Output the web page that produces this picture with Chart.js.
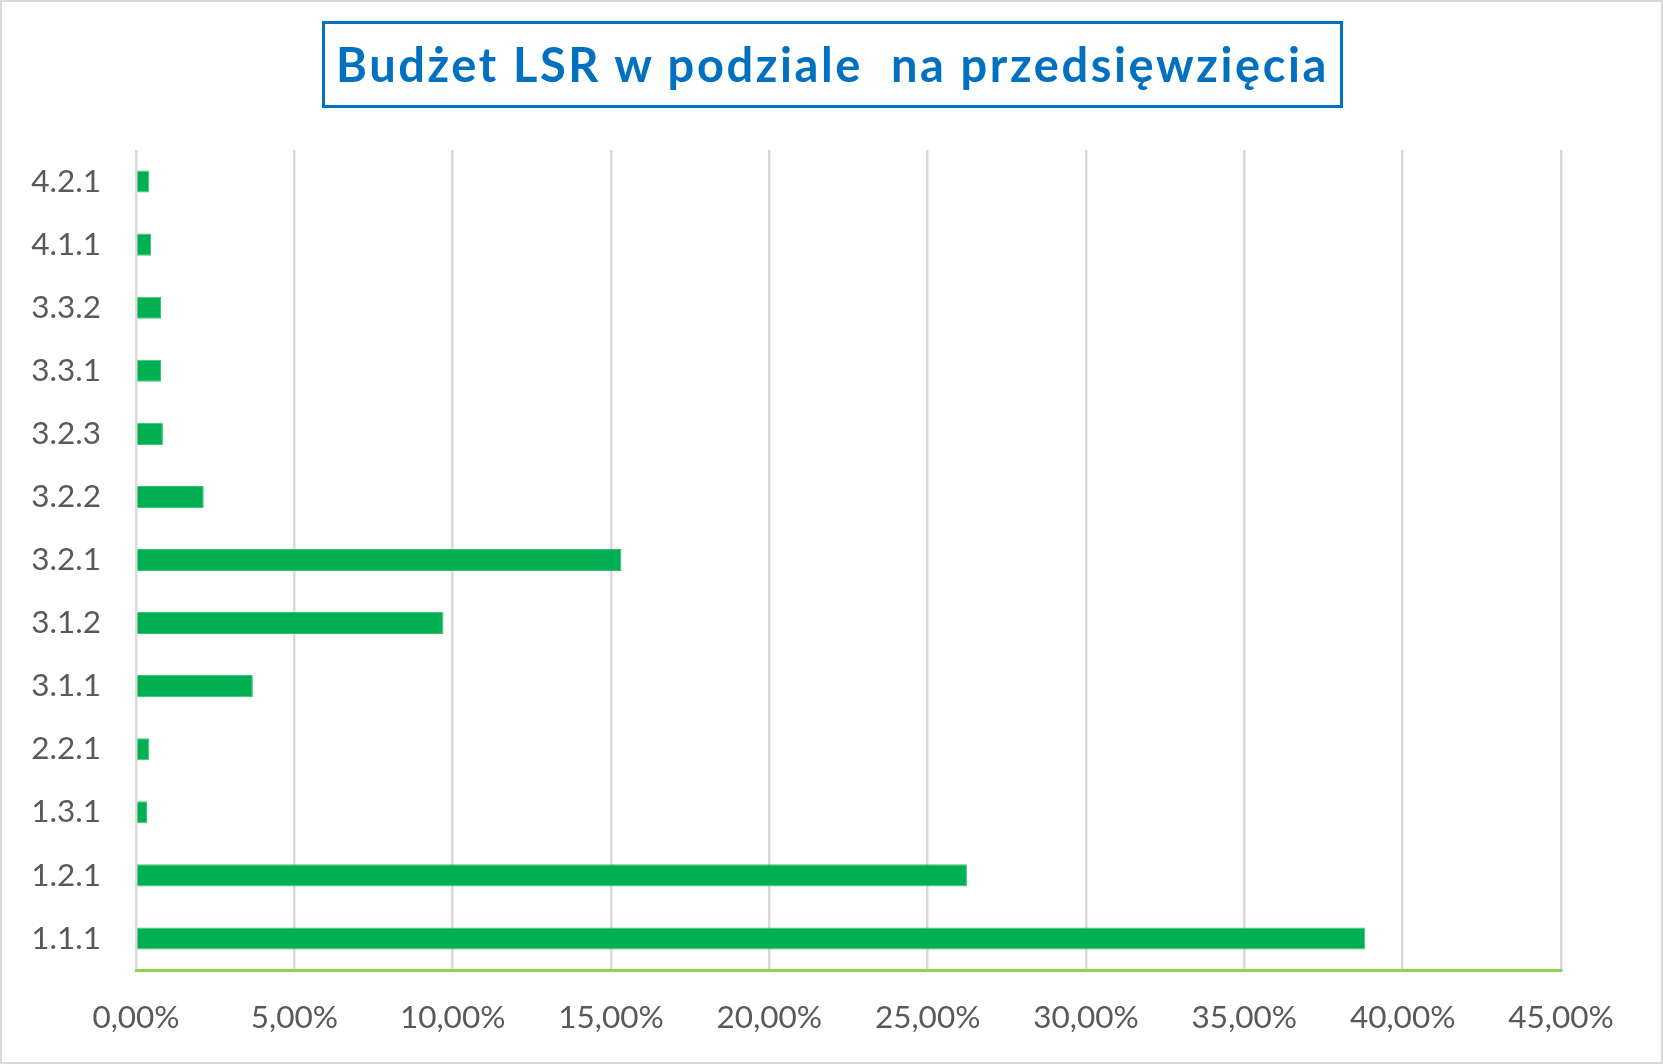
<!DOCTYPE html>
<html>
<head>
<meta charset="utf-8">
<script src="https://cdn.jsdelivr.net/npm/chart.js@4.4.1/dist/chart.umd.min.js"></script>
<style>
    html, body { margin: 0; padding: 0; background: #fff; }
    .chart-frame {
        position: relative;
        width: 1663px;
        height: 1064px;
        box-sizing: border-box;
        border: 2px solid #d9d9d9;
        background: #fff;
    }
    .chart-frame canvas { position: absolute; left: -2px; top: -2px; }
    .chart-title {
        position: absolute;
        left: 320px;
        top: 19px;
        width: 1021px;
        height: 87px;
        box-sizing: border-box;
        border: 3px solid #0070c0;
        color: #0070c0;
        font-family: Lato, "Open Sans", sans-serif;
        font-weight: bold;
        font-size: 47px;
        letter-spacing: 2.6px;
        line-height: 81px;
        text-align: center;
        white-space: pre;
    }
</style>
</head>
<body>
<div class="chart-frame">
    <canvas id="budgetChart" width="1663" height="1064"></canvas>
    <div class="chart-title">Budżet LSR w podziale  na przedsięwzięcia</div>
</div>
<script>
// Categories top to bottom, as shown on the chart
const categories = ["4.2.1", "4.1.1", "3.3.2", "3.3.1", "3.2.3", "3.2.2", "3.2.1", "3.1.2", "3.1.1", "2.2.1", "1.3.1", "1.2.1", "1.1.1"];
// Share of budget in percent
const shareValues = [0.42, 0.48, 0.79, 0.79, 0.85, 2.14, 15.33, 9.71, 3.69, 0.42, 0.35, 26.24, 38.82];
const xTickValues = [0, 5, 10, 15, 20, 25, 30, 35, 40, 45];

const labelFont = { family: "Lato, 'Open Sans', sans-serif", size: 31.5 };
const labelColor = '#595959';

const formatPct = v => v.toFixed(2).replace('.', ',') + '%';

const ctx = document.getElementById('budgetChart').getContext('2d');
const chart = new Chart(ctx, {
    type: 'bar',
    data: {
        labels: categories,
        datasets: [{
            label: 'Udział w budżecie',
            data: shareValues,
            backgroundColor: '#00B050',
            borderColor: '#3cc276',
            borderWidth: 1,
            borderSkipped: 'start',
            barPercentage: 0.35,
            categoryPercentage: 1
        }]
    },
    options: {
        indexAxis: 'y',
        responsive: false,
        animation: false,
        layout: {
            padding: { top: 150, right: 102, bottom: 0, left: 0 }
        },
        plugins: {
            legend: { display: false },
            title: { display: false },
            tooltip: { enabled: false }
        },
        scales: {
            x: {
                min: 0,
                max: 45,
                afterBuildTicks: scale => {
                    scale.ticks = xTickValues.map(v => ({ value: v }));
                },
                afterFit: scale => { scale.height = 94; },
                border: { display: true, color: '#92D050', width: 3 },
                grid: {
                    color: '#d9d9d9',
                    lineWidth: 2.5,
                    drawTicks: false
                },
                ticks: {
                    font: labelFont,
                    color: labelColor,
                    padding: 29,
                    maxRotation: 0,
                    callback: value => formatPct(value)
                }
            },
            y: {
                afterFit: scale => { scale.width = 136; },
                border: { display: false },
                grid: { display: false, drawTicks: false },
                ticks: {
                    font: labelFont,
                    color: labelColor,
                    padding: 35
                }
            }
        }
    }
});
</script>
</body>
</html>
